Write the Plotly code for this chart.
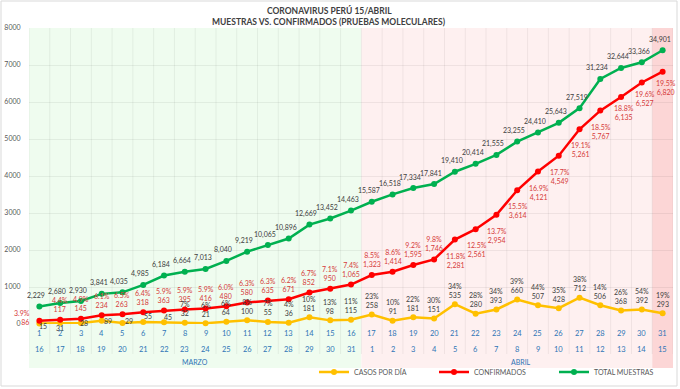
import plotly.graph_objects as go

# ---- data ----
indices = list(range(1, 32))
dates = list(range(16, 32)) + list(range(1, 16))
months = ["MARZO"] * 16 + ["ABRIL"] * 15

total_muestras = [2229, 2680, 2930, 3841, 4035, 4985, 6184, 6664, 7013, 8040, 9219,
                  10065, 10896, 12669, 13452, 14463, 15587, 16518, 17334, 17841, 19410,
                  20414, 21555, 23255, 24410, 25643, 27519, 31234, 32644, 33366, 34901]
confirmados = [86, 117, 145, 234, 263, 318, 363, 395, 416, 480, 580, 635, 671, 852, 950,
               1065, 1323, 1414, 1595, 1746, 2281, 2561, 2954, 3614, 4121, 4549, 5261,
               5767, 6135, 6527, 6820]
conf_pct = ["3.9%", "4.4%", "4.9%", "6.1%", "6.5%", "6.4%", "5.9%", "5.9%", "5.9%", "6.0%",
            "6.3%", "6.3%", "6.2%", "6.7%", "7.1%", "7.4%", "8.5%", "8.6%", "9.2%", "9.8%",
            "11.8%", "12.5%", "13.7%", "15.5%", "16.9%", "17.7%", "19.1%", "18.5%", "18.8%",
            "19.6%", "19.5%"]
casos_dia = [15, 31, 28, 89, 29, 55, 45, 32, 21, 64, 100, 55, 36, 181, 98, 115, 258, 91,
             181, 151, 535, 280, 393, 660, 507, 428, 712, 506, 368, 392, 293]
casos_pct = ["", "", "", "", "", "", "", "7%", "6%", "6%", "8%", "7%", "4%", "10%", "13%",
             "11%", "23%", "10%", "22%", "30%", "34%", "28%", "34%", "39%", "44%", "35%",
             "38%", "14%", "26%", "54%", "19%"]
y_ticks = [0, 1000, 2000, 3000, 4000, 5000, 6000, 7000, 8000]

FONT = "Lato"
W, H = 680, 389
L, R, T, B = 29, 7, 28, 65
PW, PH = W - L - R, H - T - B


def px_x(p):
    return (p - L) / PW


def px_y(p):
    return (H - B - p) / PH


x = list(range(len(indices)))

GREEN = "#00B050"
RED = "#FF0000"
YELLOW = "#FFC000"
LBL = 7
DARK = "#404040"
REDTXT = "#D63A3A"

fig = go.Figure()
fig.add_trace(go.Scatter(
    x=x, y=casos_dia, mode="lines+markers", name="CASOS POR DÍA",
    line=dict(color=YELLOW, width=2.5), marker=dict(size=6, color=YELLOW), cliponaxis=False))
fig.add_trace(go.Scatter(
    x=x, y=confirmados, mode="lines+markers", name="CONFIRMADOS",
    line=dict(color=RED, width=2.5), marker=dict(size=6, color=RED), cliponaxis=False))
fig.add_trace(go.Scatter(
    x=x, y=total_muestras, mode="lines+markers", name="TOTAL MUESTRAS", yaxis="y2",
    line=dict(color=GREEN, width=2.5), marker=dict(size=6, color=GREEN), cliponaxis=False))

ann = []
for i, v in zip(x, total_muestras):
    ann.append(dict(x=i, y=v, xref="x", yref="y2", text=f"{v:,}", showarrow=False,
                    xshift=-3, yshift=11, font=dict(size=LBL, color=DARK, family=FONT)))
for i, (p, v) in enumerate(zip(conf_pct, confirmados)):
    align = "center"
    if i == 0:
        xs, ys, align = -17, 3, "right"
    elif i < 20:
        xs, ys = 0, 15
    elif i < 28:
        xs, ys = 1, -21
    else:
        xs, ys = 3, -16
    ann.append(dict(x=i, y=v, xref="x", yref="y", text=f"{p}<br>{v:,}", showarrow=False,
                    xshift=xs, yshift=ys, align=align,
                    font=dict(size=LBL, color=REDTXT, family=FONT)))
small_shift = [(4, -3), (0, -5), (3, 0), (6, 0), (7, 2), (5, 6), (4, 5)]
for i, (p, v) in enumerate(zip(casos_pct, casos_dia)):
    if p:
        txt, xs, ys = f"{p}<br>{v:,}", 0, 14
    else:
        txt = f"{v:,}"
        xs, ys = small_shift[i]
    ann.append(dict(x=i, y=v, xref="x", yref="y", text=txt, showarrow=False,
                    xshift=xs, yshift=ys, font=dict(size=LBL, color=DARK, family=FONT)))

shapes = []
band_bottom = px_y(368)
shapes.append(dict(type="rect", xref="x", yref="paper", x0=-0.5, x1=15.5, y0=band_bottom, y1=1,
                   fillcolor="#EFFCEF", line=dict(width=0), layer="below"))
shapes.append(dict(type="rect", xref="x", yref="paper", x0=15.5, x1=29.5, y0=band_bottom, y1=1,
                   fillcolor="#FEF0F0", line=dict(width=0), layer="below"))
shapes.append(dict(type="rect", xref="x", yref="paper", x0=29.5, x1=30.5, y0=band_bottom, y1=1,
                   fillcolor="#FCD6D6", line=dict(width=0), layer="below"))
for k in range(len(indices) + 1):
    shapes.append(dict(type="line", xref="x", yref="paper", x0=k - 0.5, x1=k - 0.5,
                       y0=px_y(354), y1=1, line=dict(color="rgba(0,0,0,0.06)", width=1),
                       layer="below"))
shapes.append(dict(type="rect", xref="paper", yref="paper", x0=px_x(1), x1=px_x(677),
                   y0=px_y(386), y1=px_y(1), line=dict(color="#D9D9D9", width=1),
                   fillcolor="rgba(0,0,0,0)", layer="below"))

AX = "#2E75B6"
for i in x:
    ann.append(dict(x=i, y=0, xref="x", yref="paper", text=str(indices[i]), showarrow=False,
                    yanchor="middle", yshift=-(333 - 324), font=dict(size=7.5, color=AX, family=FONT)))
    ann.append(dict(x=i, y=0, xref="x", yref="paper", text=str(dates[i]), showarrow=False,
                    yanchor="middle", yshift=-(349 - 324), font=dict(size=7.5, color=AX, family=FONT)))
ann.append(dict(x=7.5, y=0, xref="x", yref="paper", text=months[0], showarrow=False,
                yanchor="middle", yshift=-(362 - 324), font=dict(size=7, color=AX, family=FONT)))
ann.append(dict(x=23.2, y=0, xref="x", yref="paper", text=months[-1], showarrow=False,
                yanchor="middle", yshift=-(362 - 324), font=dict(size=7, color=AX, family=FONT)))
ann.append(dict(x=px_x(329), y=px_y(10), xref="paper", yref="paper", yanchor="middle",
                text="<b>CORONAVIRUS PERÚ 15/ABRIL</b>", showarrow=False,
                font=dict(size=8.5, color=DARK, family=FONT)))
ann.append(dict(x=px_x(329), y=px_y(22), xref="paper", yref="paper", yanchor="middle",
                text="<b>MUESTRAS VS. CONFIRMADOS (PRUEBAS MOLECULARES)</b>", showarrow=False,
                font=dict(size=8.5, color=DARK, family=FONT)))

fig.update_layout(
    width=W, height=H, margin=dict(l=L, r=R, t=T, b=B, autoexpand=False),
    paper_bgcolor="white", plot_bgcolor="rgba(0,0,0,0)",
    font=dict(family=FONT, size=7, color="#595959"),
    showlegend=True,
    legend=dict(orientation="h", x=px_x(314), y=px_y(372), xanchor="left", yanchor="middle",
                font=dict(size=7, color="#595959", family=FONT), entrywidth=75,
                entrywidthmode="pixels", itemwidth=30, bgcolor="rgba(0,0,0,0)",
                traceorder="normal"),
    xaxis=dict(range=[-0.5, 30.5], showticklabels=False, showgrid=False, zeroline=False,
               showline=False, fixedrange=True),
    yaxis=dict(range=[0, 8000], tickvals=y_ticks, ticktext=[str(v) for v in y_ticks],
               showgrid=True, gridcolor="rgba(0,0,0,0.06)", zeroline=False, showline=False,
               ticks="outside", ticklen=6, tickcolor="rgba(0,0,0,0)",
               tickfont=dict(size=7, color="#595959", family=FONT)),
    yaxis2=dict(range=[0, 37735], overlaying="y", side="right", visible=False,
                showgrid=False, zeroline=False),
    shapes=shapes, annotations=ann,
)

fig.write_html("out.html", config={"displayModeBar": False},
               post_script="document.body.style.margin='0';document.body.style.overflow='hidden';")
